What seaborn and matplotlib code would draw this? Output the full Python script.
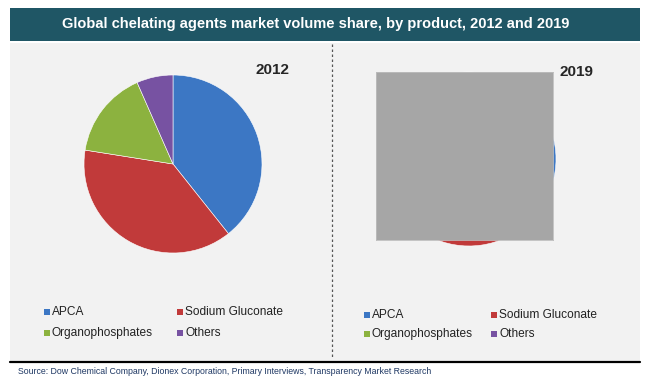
import matplotlib
matplotlib.use("Agg")
import matplotlib.pyplot as plt
import seaborn as sns
from matplotlib.patches import Rectangle
from matplotlib.lines import Line2D

# Data
products = ["APCA", "Sodium Gluconate", "Organophosphates", "Others"]
share_2012 = [39.3, 38.2, 15.9, 6.6]
share_2019 = [38.0, 39.0, 16.0, 7.0]
years = ["2012", "2019"]
title = "Global chelating agents market volume share, by product, 2012 and 2019"
source = ("Source: Dow Chemical Company, Dionex Corporation, Primary Interviews, "
          "Transparency Market Research")

sns.set_theme(style="white")
plt.rcParams['font.family'] = ['Liberation Sans', 'DejaVu Sans']
colors = sns.color_palette(["#3C77C4", "#C13A3A", "#8CB23F", "#7752A2"])

W, H = 650, 389
fig = plt.figure(figsize=(W / 100, H / 100), dpi=100)
fig.patch.set_facecolor("white")


def fx(px):
    return px / W


def fy(py):
    return 1 - py / H


# panel background + title bar
fig.patches.append(Rectangle((fx(10), fy(361)), fx(630), 318 / H, transform=fig.transFigure,
                             facecolor="#F2F2F2", edgecolor="none", zorder=-2))
fig.patches.append(Rectangle((fx(10), fy(41)), fx(630), 33 / H, transform=fig.transFigure,
                             facecolor="#1F5665", edgecolor="none", zorder=-1))
fig.text(fx(316), fy(24), title, color="white", fontsize=10.5, fontweight="bold",
         ha="center", va="center")
# separators
fig.lines.append(Line2D([fx(10), fx(640)], [fy(361.5), fy(361.5)], transform=fig.transFigure,
                        color="black", lw=1.6))
fig.lines.append(Line2D([fx(332), fx(332)], [fy(44), fy(358)], transform=fig.transFigure,
                        color="#555555", lw=0.9, ls=(0, (2, 2))))
fig.text(fx(18), fy(371), source, color="#1F3864", fontsize=6.3, ha="left", va="center")

# pies
pies = [(share_2012, 173, 164, 89), (share_2019, 469, 159, 87)]
for vals, cx, cy, R in pies:
    ax = fig.add_axes([fx(cx - R), fy(cy + R), fx(2 * R), 2 * R / H])
    ax.set_zorder(1)
    ax.pie(vals, colors=colors, startangle=90, counterclock=False,
           wedgeprops=dict(edgecolor="white", linewidth=0.4))
    ax.set_xlim(-1, 1)
    ax.set_ylim(-1, 1)
    ax.set_aspect("equal")
    ax.axis("off")

fig.text(fx(273), fy(70), years[0], fontsize=11, fontweight="bold", ha="center", va="center")
fig.text(fx(577), fy(72), years[1], fontsize=11, fontweight="bold", ha="center", va="center")

# gray block covering the 2019 pie (drawn on top of the axes)
cover = fig.add_axes([fx(376), fy(240), fx(177), 168 / H])
cover.set_zorder(3)
cover.set_facecolor("#A6A6A6")
cover.set_xticks([])
cover.set_yticks([])
for sp in cover.spines.values():
    sp.set_color("#BDBDBD")
    sp.set_linewidth(0.6)

# legends
legend_pos = [((47, 180), (312, 333)), ((367, 494), (315, 334))]
for (xs, ys) in legend_pos:
    for i, name in enumerate(products):
        x = xs[i % 2]
        y = ys[i // 2]
        fig.patches.append(Rectangle((fx(x - 3), fy(y + 3)), fx(6), 6 / H,
                                     transform=fig.transFigure, facecolor=colors[i],
                                     edgecolor="none"))
        fig.text(fx(x + 5), fy(y), name, fontsize=8.6, ha="left", va="center", color="#222222")

fig.savefig("out.png", dpi=100)
